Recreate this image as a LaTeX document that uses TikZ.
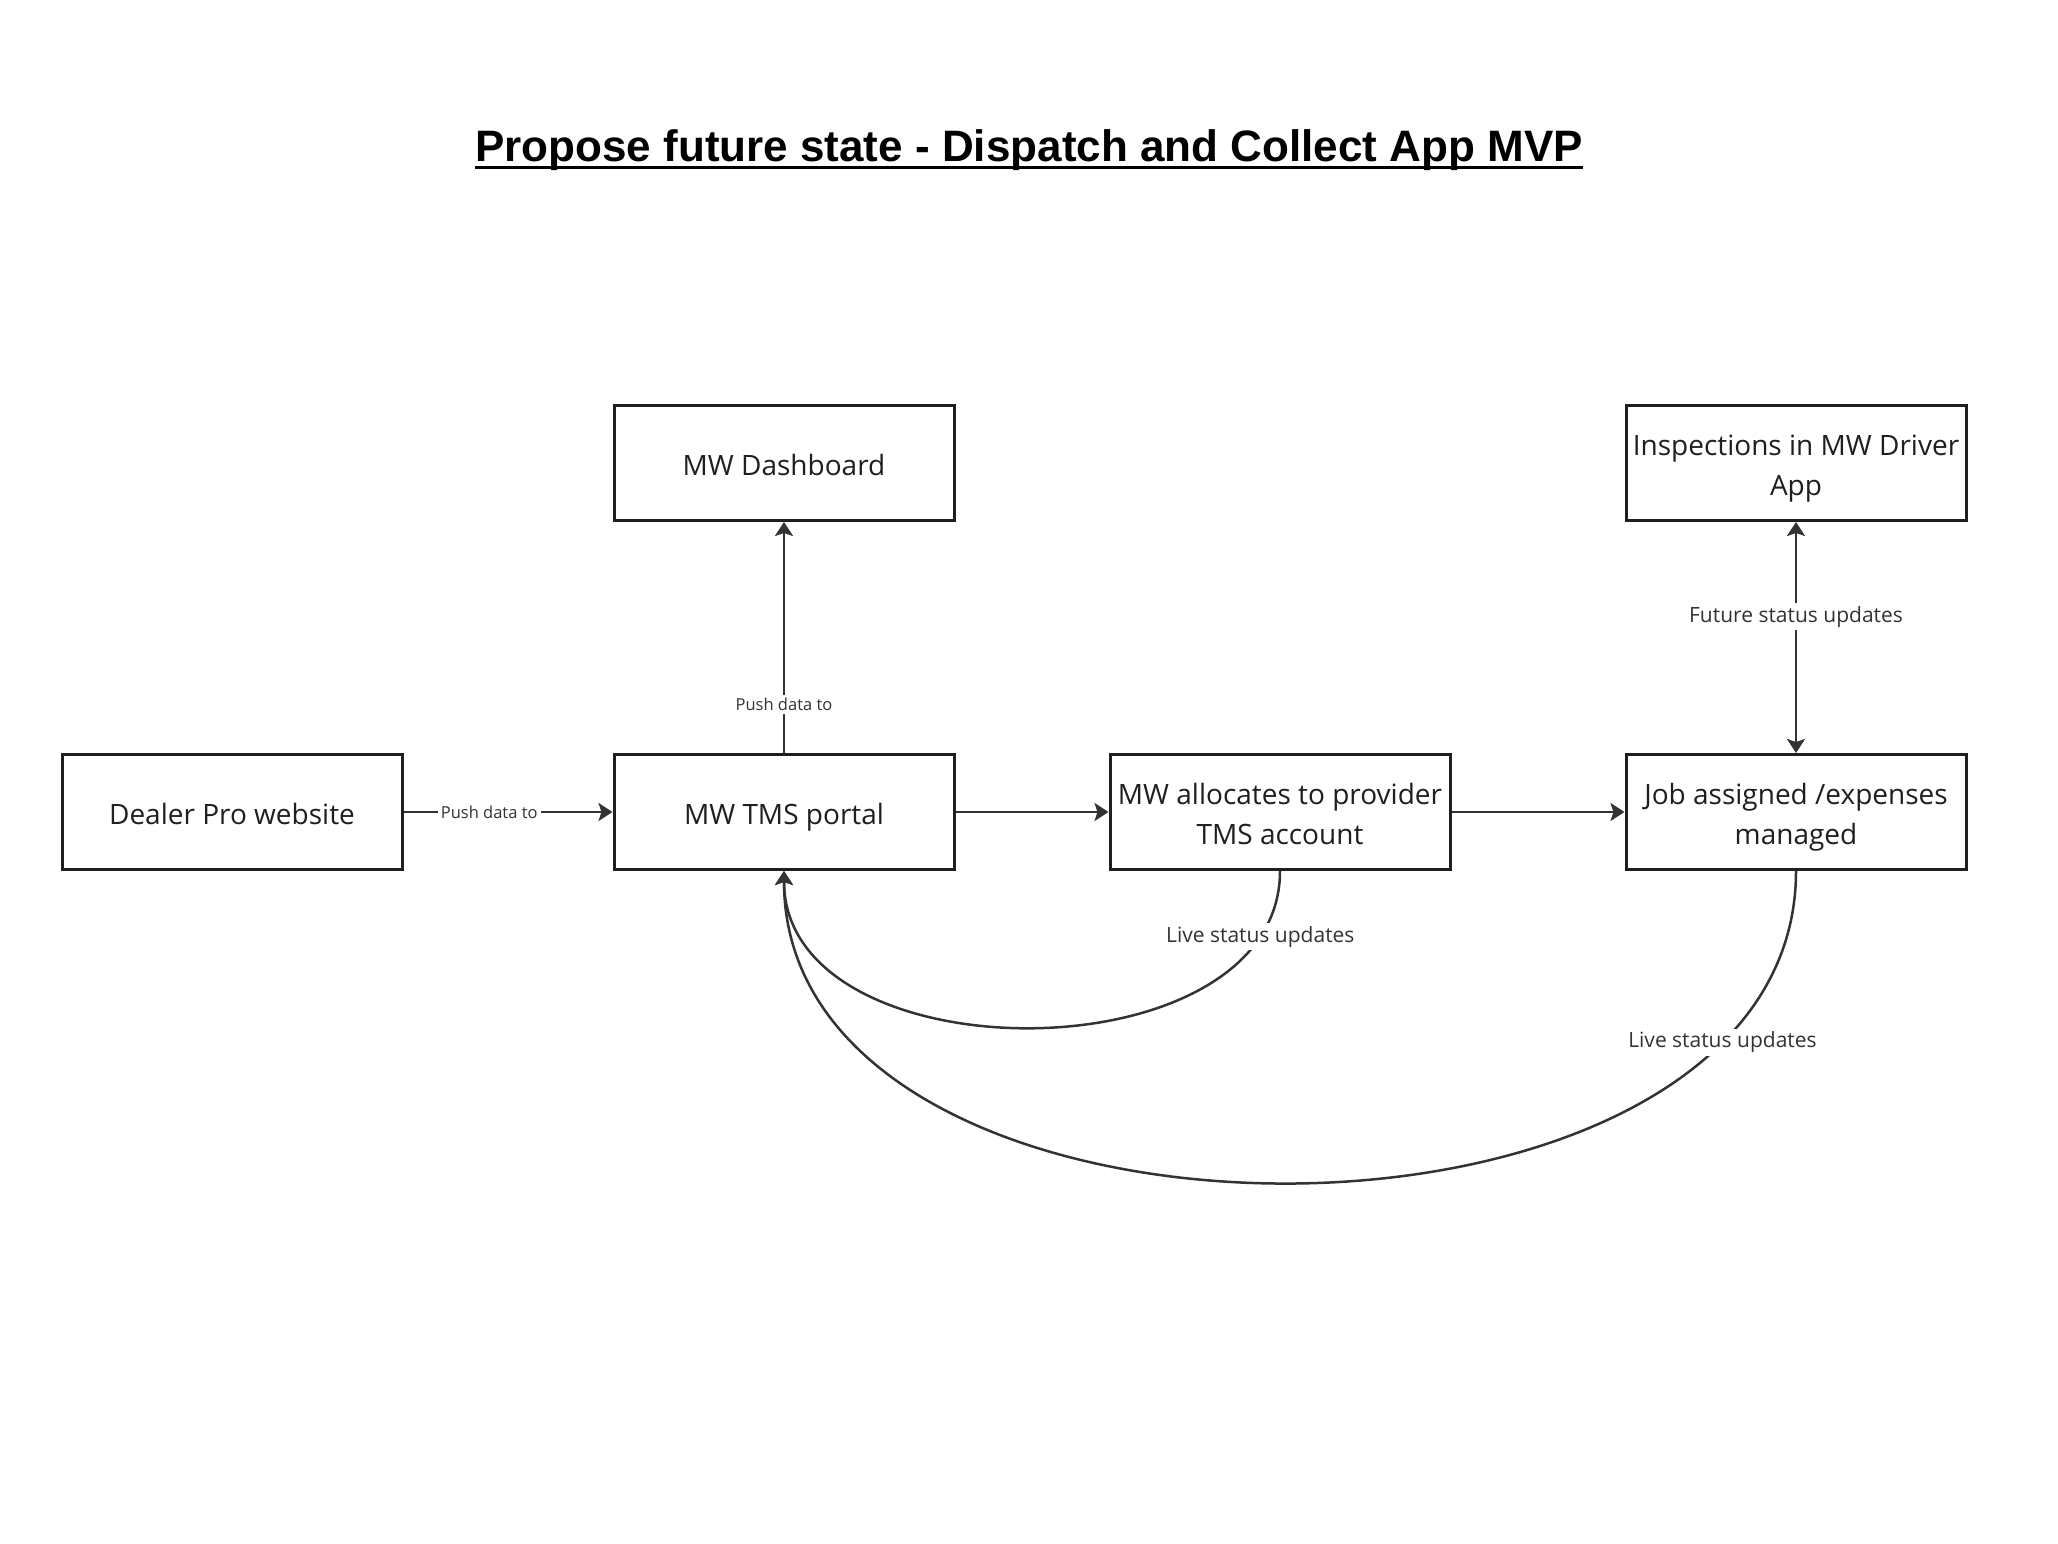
\documentclass[tikz,border=0pt]{standalone}
\usepackage{fontspec}
\setmainfont{Open Sans}
\newfontfamily\titlefont{Liberation Sans}
\usetikzlibrary{arrows.meta}
\definecolor{ink}{HTML}{1F1F1F}
\definecolor{edge}{HTML}{333333}
\newcommand{\boxtxt}[1]{\raisebox{-4pt}[\height][\depth]{\begin{tabular}{@{}c@{}}#1\end{tabular}}}
\begin{document}
\begin{tikzpicture}[x=1pt,y=-1pt,
  box/.style={draw=ink, line width=3pt, minimum width=340pt, minimum height=115pt, inner sep=0pt, font=\fontsize{28}{40}\selectfont, text=ink},
  conn/.style={draw=edge, line width=2.5pt, -{Stealth[length=14pt,width=18pt,inset=3pt]}},
  biconn/.style={draw=edge, line width=2.5pt, {Stealth[length=14pt,width=18pt,inset=3pt]}-{Stealth[length=14pt,width=18pt,inset=3pt]}},
  lbl/.style={fill=white, text=edge, inner sep=3pt},
  smalllbl/.style={lbl, font=\fontsize{16.5}{20}\selectfont},
  statuslbl/.style={lbl, font=\fontsize{21}{25}\selectfont}]
\useasboundingbox (0,0) rectangle (2058,1544);
\fill[white] (0,0) rectangle (2058,1544);

% title
\node (title) [anchor=base, inner sep=0pt, font=\titlefont\bfseries\fontsize{44}{50}\selectfont, text=black] at (1029,161) {Propose future state - Dispatch and Collect App MVP};
\draw[line width=3pt, black] ([yshift=-6pt]title.base west) -- ([yshift=-6pt]title.base east);

% boxes
\node (dash) [box] at (784,463) {\boxtxt{MW Dashboard}};
\node (insp) [box] at (1796,463) {\boxtxt{Inspections in MW Driver\\App}};
\node (dealer) [box] at (232,812) {\boxtxt{Dealer Pro website}};
\node (tms) [box] at (784,812) {\boxtxt{MW TMS portal}};
\node (alloc) [box] at (1280,812) {\boxtxt{MW allocates to provider\\TMS account}};
\node (job) [box] at (1796,812) {\boxtxt{Job assigned /expenses\\managed}};

% connectors
\draw[conn] (dealer) -- (tms) node[smalllbl, pos=0.41] {Push data to};
\draw[conn] (tms) -- (dash) node[smalllbl, pos=0.21] {Push data to};
\draw[conn] (tms) -- (alloc);
\draw[conn] (alloc) -- (job);
\draw[biconn] (job) -- (insp) node[statuslbl, pos=0.59] {Future status updates};
\draw[conn] (alloc.south) .. controls +(0,208) and +(0,208) .. (tms.south) node[statuslbl, pos=0.12] {Live status updates};
\draw[conn] (job.south) .. controls +(0,415) and +(0,415) .. (tms.south) node[statuslbl, pos=0.165] {Live status updates};
\end{tikzpicture}
\end{document}
